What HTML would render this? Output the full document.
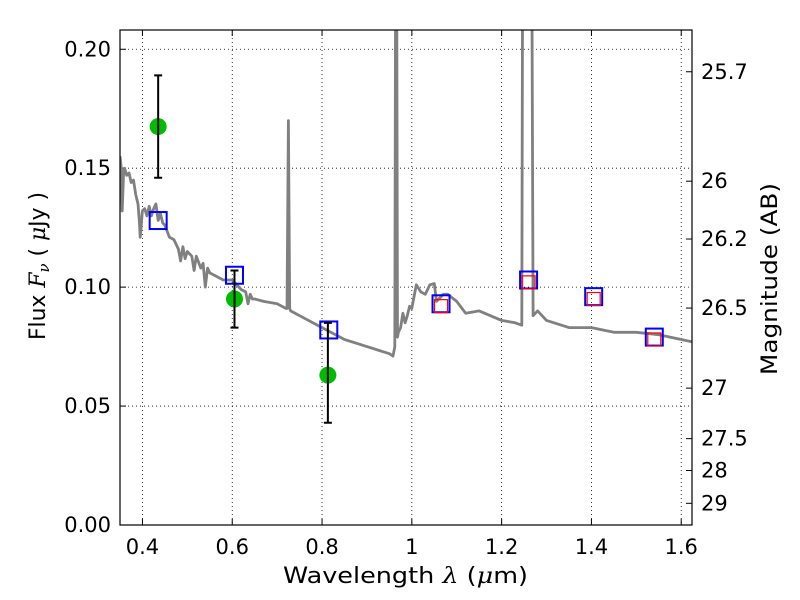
<!DOCTYPE html>
<html><head><meta charset="utf-8"><style>
html,body{margin:0;padding:0;background:#fff}
svg{display:block;font-family:"DejaVu Sans","Liberation Sans",sans-serif}
</style></head><body>
<svg id="chart" width="800" height="600" viewBox="0 0 800 600"></svg>
<script>
const xTicks=[0.4,0.6,0.8,1.0,1.2,1.4,1.6];
const xTickLabels=["0.4","0.6","0.8","1","1.2","1.4","1.6"];
const yTicks=[0,0.05,0.10,0.15,0.20];
const yTickLabels=["0.00","0.05","0.10","0.15","0.20"];
const magTicks=[25.7,26,26.2,26.5,27,27.5,28,29];
const magTickLabels=["25.7","26","26.2","26.5","27","27.5","28","29"];
const specWave=[0.35,0.353,0.355,0.358,0.36,0.365,0.37,0.375,0.38,0.385,0.39,0.393,0.395,0.398,0.40,0.405,0.41,0.415,0.42,0.425,0.43,0.435,0.44,0.445,0.45,0.46,0.47,0.48,0.485,0.49,0.495,0.50,0.51,0.515,0.52,0.53,0.535,0.54,0.545,0.55,0.56,0.58,0.60,0.62,0.63,0.635,0.64,0.645,0.65,0.67,0.70,0.72,0.722,0.725,0.728,0.73,0.75,0.80,0.85,0.90,0.95,0.958,0.962,0.964,0.966,0.968,0.97,0.975,0.98,0.985,0.99,0.995,1.0,1.01,1.02,1.03,1.04,1.05,1.055,1.06,1.07,1.08,1.1,1.12,1.15,1.2,1.23,1.245,1.247,1.267,1.27,1.28,1.3,1.35,1.4,1.45,1.5,1.55,1.6,1.624];
const specFlux=[0.155,0.150,0.132,0.148,0.150,0.147,0.148,0.144,0.145,0.139,0.135,0.128,0.121,0.128,0.132,0.133,0.130,0.134,0.130,0.133,0.135,0.128,0.131,0.127,0.126,0.121,0.120,0.116,0.111,0.117,0.112,0.115,0.113,0.107,0.113,0.108,0.110,0.100,0.108,0.106,0.105,0.103,0.103,0.099,0.098,0.093,0.097,0.095,0.095,0.094,0.093,0.091,0.091,0.170,0.091,0.090,0.088,0.083,0.078,0.075,0.072,0.071,0.075,0.25,0.25,0.079,0.081,0.083,0.089,0.085,0.088,0.092,0.091,0.101,0.098,0.097,0.101,0.1015,0.094,0.095,0.097,0.097,0.094,0.089,0.090,0.086,0.085,0.084,0.25,0.25,0.088,0.090,0.086,0.083,0.083,0.081,0.081,0.080,0.078,0.077];
const obsWave=[0.435,0.605,0.813];
const obsFlux=[0.1675,0.095,0.063];
const obsErrLo=[0.146,0.083,0.043];
const obsErrHi=[0.189,0.107,0.085];
const modelWave=[0.435,0.605,0.815,1.065,1.26,1.405,1.54];
const modelFlux=[0.128,0.105,0.082,0.093,0.103,0.096,0.079];
const redWave=[1.065,1.26,1.405,1.54];
const redFlux=[0.092,0.102,0.095,0.078];

const L=120,R=692,T=30,B=525;
const xmin=0.35,xmax=1.624,ymin=0,ymax=0.2081;
const X=v=>L+(v-xmin)/(xmax-xmin)*(R-L);
const Y=v=>B-(v-ymin)/(ymax-ymin)*(B-T);
const magToFlux=m=>Math.pow(10,(23.9-m)/2.5);
const NS="http://www.w3.org/2000/svg";
const svg=document.getElementById('chart');
function mk(tag,attrs,parent){const e=document.createElementNS(NS,tag);for(const k in attrs)e.setAttribute(k,attrs[k]);(parent||svg).appendChild(e);return e;}

const defs=mk('clipPath',{id:'clip'});mk('rect',{x:L,y:T,width:R-L,height:B-T},defs);
const FS=21;

xTicks.forEach((t,i)=>{
 const g=mk('line',{x1:X(t),x2:X(t),y1:T,y2:B,stroke:'#000','stroke-width':0.8,'stroke-dasharray':'1,3'});
 
 
 const tk=mk('line',{x1:X(t),x2:X(t),y1:B,y2:B-6,stroke:'#000','stroke-width':1});
 
 
 mk('line',{x1:X(t),x2:X(t),y1:T,y2:T+6,stroke:'#000','stroke-width':1});
 const tx=mk('text',{x:X(t),y:B+29,'font-size':FS,'text-anchor':'middle'});tx.textContent=xTickLabels[i];
 
 
});
yTicks.forEach((t,i)=>{
 const g=mk('line',{x1:L,x2:R,y1:Y(t),y2:Y(t),stroke:'#000','stroke-width':0.8,'stroke-dasharray':'1,3'});
 
 
 mk('line',{x1:L,x2:L+6,y1:Y(t),y2:Y(t),stroke:'#000','stroke-width':1});
 const tx=mk('text',{x:L-9,y:Y(t)+7,'font-size':FS,'text-anchor':'end'});tx.textContent=yTickLabels[i];
 
 
});
magTicks.forEach((m,i)=>{
 const y=Y(magToFlux(m));
 const tk=mk('line',{x1:R-6,x2:R,y1:y,y2:y,stroke:'#000','stroke-width':1});
 
 
 const tx=mk('text',{x:R+9,y:y+7,'font-size':FS});tx.textContent=magTickLabels[i];
 
 
});

const pts=specWave.map((w,i)=>X(w).toFixed(1)+','+Y(specFlux[i]).toFixed(1)).join(' ');
const sp=mk('polyline',{points:pts,fill:'none',stroke:'#808080','stroke-width':2.8,'stroke-linejoin':'round','clip-path':'url(#clip)'});



modelWave.forEach((w,i)=>{
 const r=mk('rect',{x:X(w)-8.5,y:Y(modelFlux[i])-8.5,width:17,height:17,fill:'none',stroke:'#0000ff','stroke-width':2});
 
 
});
redWave.forEach((w,i)=>{
 const r=mk('rect',{x:X(w)-6.5,y:Y(redFlux[i])-6.5,width:13,height:13,fill:'none',stroke:'#ff0000','stroke-width':1.2});
 
 
});

obsWave.forEach((w,i)=>{
 const x=X(w);
 const c=mk('circle',{cx:x,cy:Y(obsFlux[i]),r:8.5,fill:'#00bb00'});
 
 
 const e=mk('path',{d:`M${x},${Y(obsErrLo[i])}V${Y(obsErrHi[i])}M${x-4},${Y(obsErrLo[i])}h8M${x-4},${Y(obsErrHi[i])}h8`,stroke:'#000','stroke-width':2,fill:'none'});
 
 
});

const fr=mk('rect',{x:L,y:T,width:R-L,height:B-T,fill:'none',stroke:'#000','stroke-width':1.2});



const xt=mk('text',{x:283,y:583,'font-size':22,textLength:245,lengthAdjust:'spacingAndGlyphs'});
xt.innerHTML='Wavelength  <tspan font-style="italic" font-family="DejaVu Serif,serif">λ</tspan> (<tspan font-style="italic" font-family="DejaVu Serif,serif">μ</tspan>m)';


const yt=mk('text',{x:0,y:0,'font-size':22,textLength:148,lengthAdjust:'spacingAndGlyphs',transform:'translate(45,340) rotate(-90)'});
yt.innerHTML='Flux  <tspan font-style="italic" font-family="DejaVu Serif,serif">F</tspan><tspan font-style="italic" font-size="15" dy="4" font-family="DejaVu Serif,serif">ν</tspan><tspan dy="-4">  (  </tspan><tspan font-style="italic" font-family="DejaVu Serif,serif">μ</tspan>Jy )';


const rt=mk('text',{x:0,y:0,'font-size':22,textLength:192,lengthAdjust:'spacingAndGlyphs',transform:'translate(777,375) rotate(-90)'});
rt.textContent='Magnitude (AB)';


</script>
</body></html>
